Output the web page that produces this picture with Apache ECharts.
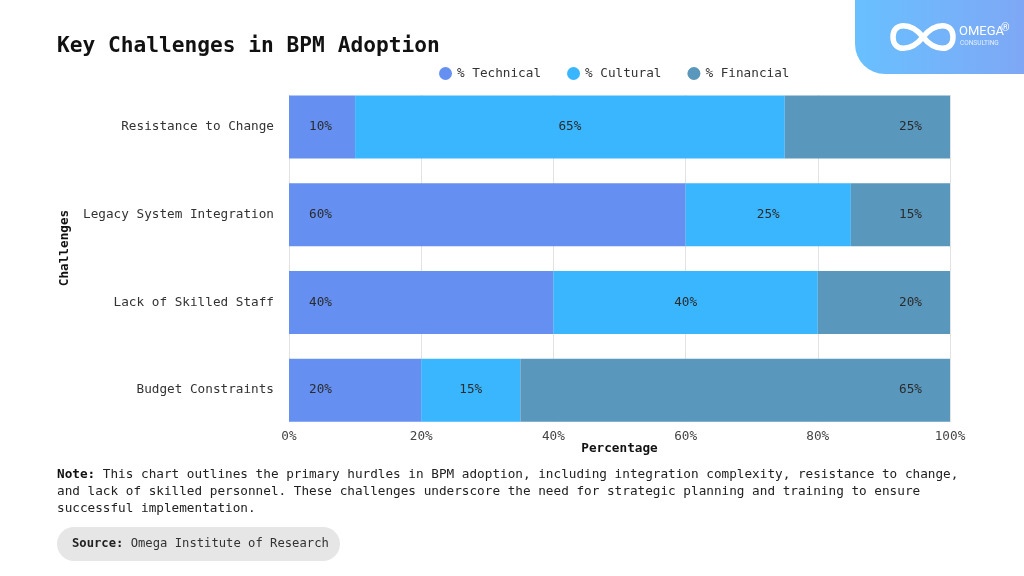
<!DOCTYPE html>
<html>
<head>
<meta charset="utf-8">
<script src="https://cdn.jsdelivr.net/npm/echarts@6/dist/echarts.min.js"></script>
<style>
html,body{margin:0;padding:0;background:#fff;}
#chart{width:1024px;height:576px;}
</style>
</head>
<body>
<div id="chart"></div>
<script>
const categories = ['Resistance to Change', 'Legacy System Integration', 'Lack of Skilled Staff', 'Budget Constraints'];
const seriesNames = ['% Technical', '% Cultural', '% Financial'];
const technical = [10, 60, 40, 20];
const cultural = [65, 25, 40, 15];
const financial = [25, 15, 20, 65];
const xTicks = [0, 20, 40, 60, 80, 100];

const FONT = 'DejaVu Sans Mono';
const colors = ['#6590F1', '#3AB6FF', '#5A97BD'];
const chart = echarts.init(document.getElementById('chart'));

const labelBase = { show: true, color: '#2b2b2b', fontFamily: FONT, fontSize: 12.7, formatter: p => p.value + '%' };

function curve(x1, y1, c1x, c1y, c2x, c2y, x2, y2) {
  return { type: 'bezierCurve', shape: { x1: x1, y1: y1, cpx1: c1x, cpy1: c1y, cpx2: c2x, cpy2: c2y, x2: x2, y2: y2 },
    style: { stroke: '#fff', lineWidth: 5.5, fill: null } };
}

const option = {
  animation: false,
  backgroundColor: '#fff',
  color: colors,
  legend: {
    data: seriesNames,
    left: 434, top: 62,
    icon: 'circle', itemWidth: 13, itemHeight: 13, itemGap: 26,
    textStyle: { fontFamily: FONT, fontSize: 12.7, color: '#333' }
  },
  grid: [
    { left: 289, right: 74, top: 83, bottom: 142 },
    { left: 289, right: 74, top: 95, bottom: 154 }
  ],
  xAxis: [
    { gridIndex: 0, type: 'value', min: 0, max: 100, interval: 20, show: false },
    {
      gridIndex: 1, type: 'value', min: 0, max: 100, interval: 20,
      axisLine: { show: false }, axisTick: { show: false },
      splitLine: { show: true, lineStyle: { color: '#e2e2e2', width: 1 } },
      axisLabel: { margin: 8, fontFamily: FONT, fontSize: 12.7, color: '#444', formatter: v => xTicks.includes(v) ? v + '%' : '' },
      name: 'Percentage', nameLocation: 'middle', nameGap: 20, nameMoveOverlap: false,
      nameTextStyle: { fontFamily: FONT, fontSize: 12.7, fontWeight: 'bold', color: '#111' }
    }
  ],
  yAxis: [
    {
      gridIndex: 0, type: 'category', data: categories, inverse: true,
      axisLine: { show: false }, axisTick: { show: false },
      axisLabel: { margin: 15, fontFamily: FONT, fontSize: 12.7, color: '#333' }
    },
    { gridIndex: 1, type: 'value', show: false }
  ],
  series: [
    { name: seriesNames[0], type: 'bar', stack: 'all', xAxisIndex: 0, yAxisIndex: 0, barWidth: 63, data: technical,
      label: Object.assign({}, labelBase, { position: 'insideLeft', distance: 20 }) },
    { name: seriesNames[1], type: 'bar', stack: 'all', xAxisIndex: 0, yAxisIndex: 0, barWidth: 63, data: cultural,
      label: Object.assign({}, labelBase, { position: 'inside' }) },
    { name: seriesNames[2], type: 'bar', stack: 'all', xAxisIndex: 0, yAxisIndex: 0, barWidth: 63, data: financial,
      label: Object.assign({}, labelBase, { position: 'insideRight', distance: 28 }) }
  ],
  graphic: [
    { type: 'text', left: 57, top: 36, style: { text: 'Key Challenges in BPM Adoption', fontFamily: FONT, fontSize: 21.2, fontWeight: 'bold', fill: '#111' } },
    { type: 'text', x: 65, y: 248, rotation: Math.PI / 2,
      style: { text: 'Challenges', fontFamily: FONT, fontSize: 12.7, fontWeight: 'bold', fill: '#111', align: 'center', verticalAlign: 'middle' } },
    { type: 'rect', shape: { x: 855, y: -10, width: 180, height: 84, r: [0, 0, 0, 30] },
      style: { fill: new echarts.graphic.LinearGradient(0, 0, 1, 0, [{ offset: 0, color: '#68C0FF' }, { offset: 1, color: '#80A6F4' }]) } },
    curve(923, 37, 935, 22, 953, 22, 953, 37),
    curve(953, 37, 953, 52, 935, 52, 923, 37),
    curve(923, 37, 911, 22, 893, 22, 893, 37),
    curve(893, 37, 893, 52, 911, 52, 923, 37),
    { type: 'text', x: 959, y: 25, style: { text: 'OMEGA', fontFamily: 'Roboto', fontSize: 13, fill: '#fff' } },
    { type: 'text', x: 1001, y: 23, style: { text: '®', fontFamily: 'Roboto', fontSize: 11, fill: '#fff' } },
    { type: 'text', x: 960, y: 40, style: { text: 'CONSULTING', fontFamily: 'Roboto', fontSize: 6.5, fill: 'rgba(255,255,255,0.8)' } },
    { type: 'text', left: 57, top: 466, style: {
        text: '{b|Note:} This chart outlines the primary hurdles in BPM adoption, including integration complexity, resistance to change,\nand lack of skilled personnel. These challenges underscore the need for strategic planning and training to ensure\nsuccessful implementation.',
        fontFamily: FONT, fontSize: 12.7, lineHeight: 17, fill: '#222',
        rich: { b: { fontFamily: FONT, fontSize: 12.7, fontWeight: 'bold', fill: '#111', lineHeight: 17 } }
      } },
    { type: 'rect', shape: { x: 57, y: 527, width: 283, height: 34, r: 17 }, style: { fill: '#e6e6e6' } },
    { type: 'text', x: 72, y: 544, style: {
        text: '{b|Source:} Omega Institute of Research', fontFamily: FONT, fontSize: 12.2, fill: '#333', verticalAlign: 'middle',
        rich: { b: { fontFamily: FONT, fontSize: 12.2, fontWeight: 'bold', fill: '#222' } }
      } }
  ]
};
chart.setOption(option);
</script>
</body>
</html>
